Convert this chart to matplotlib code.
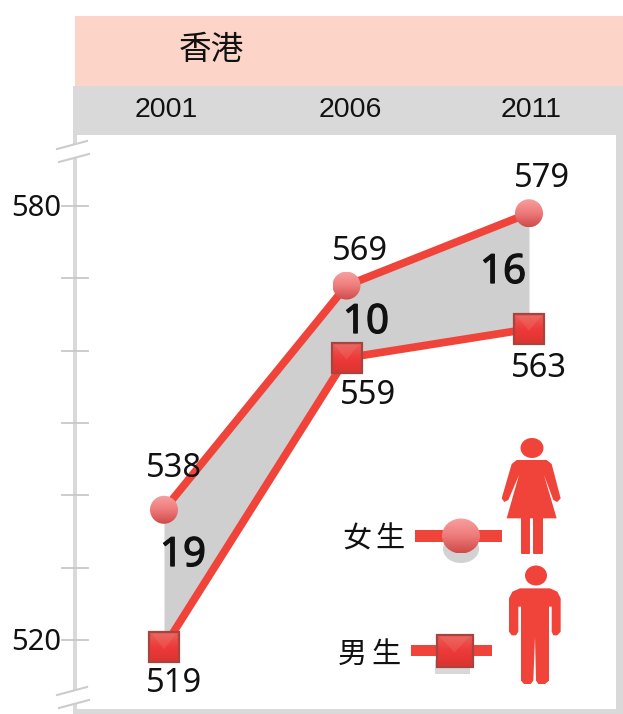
import numpy as np
import matplotlib
matplotlib.use('Agg')
import matplotlib.pyplot as plt
import matplotlib.patheffects as pe
from matplotlib.patches import Rectangle, Polygon, FancyBboxPatch, Ellipse
from matplotlib.colors import LinearSegmentedColormap

plt.rcParams['font.family'] = ['Noto Sans', 'Noto Sans CJK TC', 'DejaVu Sans']

# data
region = '香港'
years = [2001, 2006, 2011]
female = [538, 569, 579]
male = [519, 559, 563]
gaps = [19, 10, 16]
y_ticks = [520, 530, 540, 550, 560, 570, 580]
y_labels = ['520', '', '', '', '', '', '580']
legend_names = ['女生', '男生']

RED = '#f0443a'
GREY = '#d9d9d9'
TEXT = '#111111'
W, H = 623, 714

fig = plt.figure(figsize=(6.23, 7.14), dpi=100)

# layer in pixel coordinates for bands, icons and marker pictures
bg = fig.add_axes([0, 0, 1, 1], zorder=1)
bg.axis('off')

# data layer, 2001 is at x=164 and 580 at y=206
PX_YEAR = 36.5
PX_VAL = 7.233
ax = fig.add_axes([0, 0, 1, 1], zorder=2)
ax.set_xlim(2001 - 164 / PX_YEAR, 2001 + (W - 164) / PX_YEAR)
ax.set_ylim(580 - (H - 206) / PX_VAL, 580 + 206 / PX_VAL)
ax.axis('off')
ax.patch.set_alpha(0)

top = fig.add_axes([0, 0, 1, 1], zorder=3)
top.axis('off')
top.patch.set_alpha(0)


def to_px(year, val):
    return 164 + (year - 2001) * PX_YEAR, 206 + (580 - val) * PX_VAL


# frame and header
bg.add_patch(Rectangle((75, 16), 548, 70, fc='#fdd5c8', ec='none'))
bg.add_patch(Rectangle((73, 86), 550, 49, fc=GREY, ec='none'))
bg.add_patch(Rectangle((616, 135), 7, 579, fc=GREY, ec='none'))
bg.add_patch(Rectangle((73, 709), 550, 5, fc=GREY, ec='none'))
for y0, y1 in [(135, 144), (158, 690), (703, 709)]:
    bg.plot([75, 75], [y0, y1], color=GREY, lw=2.9, solid_capstyle='butt')
top.text(211, 50, region, fontsize=23.5, ha='center', va='center', color=TEXT)
for yr, x_off in zip(years, [2.5, 3.5, 2.5]):
    top.text(to_px(yr, 580)[0] + x_off, 110, str(yr), fontsize=20.5, family='Liberation Sans',
             ha='center', va='center', color=TEXT)

# axis breaks
for y0, x0 in [(145, 57), (158, 59), (691, 57), (704, 59)]:
    bg.plot([x0, x0 + 30], [y0 + 4, y0 - 4], color='#cccccc', lw=1.5)

# y ticks
for val, lab in zip(y_ticks, y_labels):
    y_px = to_px(2001, val)[1]
    bg.plot([62, 88], [y_px, y_px], color='#c8c8c8', lw=1.3)
    if lab:
        top.text(36, y_px + 3, lab, fontsize=21, ha='center', va='center', color=TEXT)

# gap area and lines
ax.fill_between(years, female, male, color='#cfcfcf', lw=0)
ax.plot(years, female, color=RED, lw=5.6, solid_capstyle='butt')
ax.plot(years, male, color=RED, lw=5.6, solid_capstyle='butt')

ball_cm = LinearSegmentedColormap.from_list('ball', ['#f8a0a0', '#ee7b7b', '#cf4a4a'])
box_cm = LinearSegmentedColormap.from_list('box', ['#e8625a', '#ee3a3a', '#dc3430'])
grad = np.linspace(0, 1, 64).reshape(-1, 1)


def ball(axes, x, y, rx, ry):
    im = axes.imshow(grad, cmap=ball_cm, extent=[x - rx, x + rx, y + ry, y - ry], aspect='auto', zorder=5)
    im.set_clip_path(Ellipse((x, y), 2 * rx, 2 * ry, transform=axes.transData))


def box(axes, x, y, rx, ry):
    axes.imshow(grad, cmap=box_cm, extent=[x - rx, x + rx, y + ry, y - ry], aspect='auto', zorder=5)
    axes.add_patch(Polygon([[x - rx + 3, y - ry + 2], [x + rx - 3, y - ry + 2], [x, y + 2]],
                           fc='#f58a80', ec='none', alpha=0.22, zorder=6))
    axes.add_patch(Rectangle((x - rx, y - ry), 2 * rx, 2 * ry, fc='none', ec='#a8443f', lw=1.6, zorder=7))


for yr, val in zip(years, female):
    ball(top, *to_px(yr, val), 14, 14)
for yr, val in zip(years, male):
    box(top, *to_px(yr, val), 15, 15)

# value labels
female_off = [(10, -41), (13, -34), (13, -35)]
male_off = [(10, 36), (22, 38), (10, 40)]
for yr, val, off in zip(years, female, female_off):
    x, y = to_px(yr, val)
    top.text(x + off[0], y + off[1], str(val), fontsize=23.5, ha='center', va='center', color=TEXT)
for yr, val, off in zip(years, male, male_off):
    x, y = to_px(yr, val)
    top.text(x + off[0], y + off[1], str(val), fontsize=23.5, ha='center', va='center', color=TEXT)

# gap labels
for gap, (gx, gy) in zip(gaps, [(183, 556), (366, 323), (503, 273)]):
    top.text(gx, gy, str(gap), fontsize=29, ha='center', va='center', color=TEXT,
             path_effects=[pe.withStroke(linewidth=0.9, foreground=TEXT)])

# legend
for name, xs, y in zip(legend_names, [(357, 390), (352, 386)], [539, 655]):
    for ch, x in zip(name, xs):
        top.text(x, y, ch, fontsize=21, ha='center', va='center', color=TEXT)
top.add_patch(Rectangle((415, 530), 87, 12, fc=RED, ec='none', zorder=3))
top.add_patch(Rectangle((411, 645), 81, 11, fc=RED, ec='none', zorder=3))
top.add_patch(Ellipse((461, 549), 36, 28, fc='#d2d2d2', ec='none', zorder=4))
ball(top, 461, 536, 19, 17.5)
top.add_patch(Rectangle((435, 660), 35, 14, fc='#d8d8d8', ec='none', zorder=4))
box(top, 454.5, 650.5, 18, 16)


def crop(pts):
    return [[320 + px / 3, 420 + py / 3] for px, py in pts]


# female icon
top.add_patch(Ellipse((532, 448), 23, 20, fc=RED, ec='none'))
top.add_patch(Polygon(crop([[590, 120], [680, 120], [695, 132], [722, 235], [712, 246], [700, 240],
                            [672, 165], [710, 295], [560, 295], [597, 165], [565, 240], [553, 246],
                            [545, 235], [575, 132]]), fc=RED, ec='none'))
top.add_patch(FancyBboxPatch((522, 516), 7, 37, boxstyle='round,pad=1', fc=RED, ec='none'))
top.add_patch(FancyBboxPatch((534, 516), 8, 37, boxstyle='round,pad=1', fc=RED, ec='none'))

# male icon
top.add_patch(Ellipse((536, 575.5), 22, 20, fc=RED, ec='none'))
top.add_patch(Polygon(crop([[600, 505], [690, 505], [712, 515], [722, 535], [722, 635], [712, 646],
                            [700, 646], [695, 635], [695, 560], [687, 560], [687, 782], [675, 792],
                            [655, 792], [648, 782], [645, 650], [640, 782], [632, 792], [612, 792],
                            [603, 782], [603, 560], [595, 560], [595, 635], [588, 646], [575, 646],
                            [567, 635], [567, 535], [577, 515]]), fc=RED, ec='none'))

for a in (bg, top):
    a.set_xlim(0, W)
    a.set_ylim(H, 0)

fig.savefig('out.png', dpi=100)
